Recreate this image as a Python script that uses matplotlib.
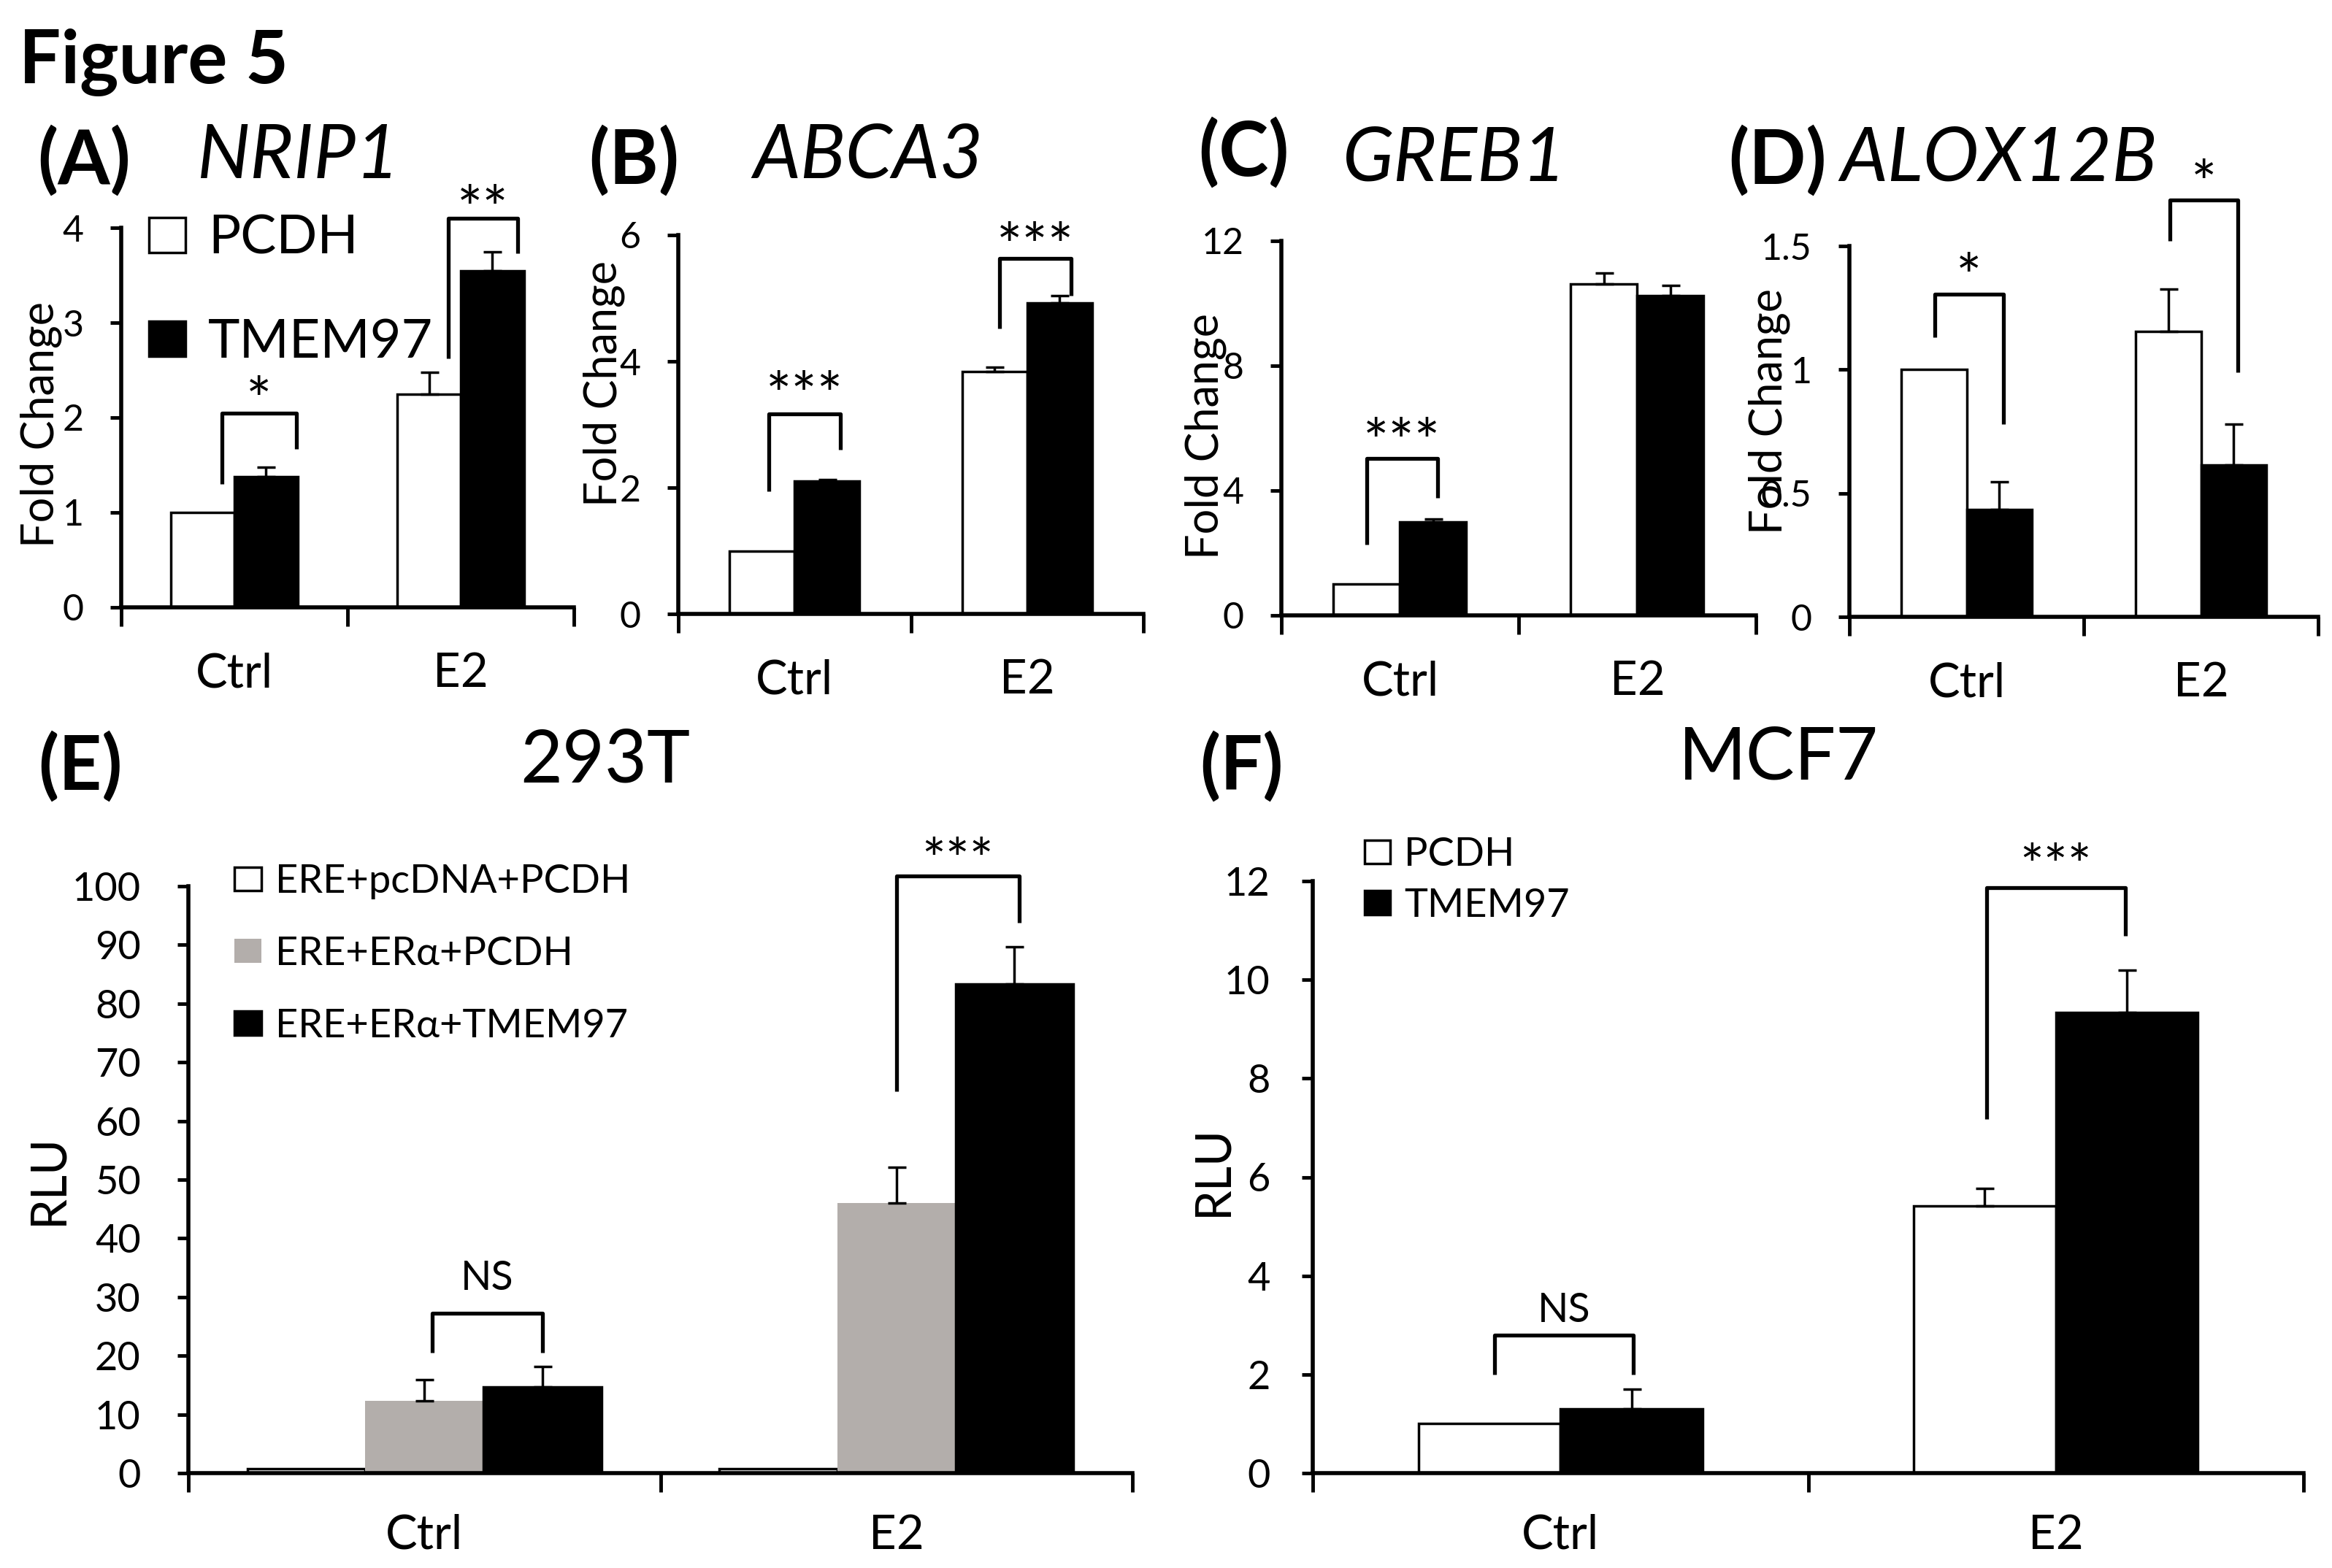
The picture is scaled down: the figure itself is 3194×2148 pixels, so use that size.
import numpy as np
import matplotlib
matplotlib.use('Agg')
import matplotlib.pyplot as plt

plt.rcParams['font.family'] = ['Lato', 'DejaVu Sans']

W, H = 3194, 2148
groups = ['Ctrl', 'E2']

# (A) NRIP1
a_pcdh = [1.0, 2.25]
a_pcdh_err = [0.0, 0.23]
a_tmem = [1.38, 3.55]
a_tmem_err = [0.10, 0.20]
# (B) ABCA3
b_pcdh = [1.0, 3.84]
b_pcdh_err = [0.0, 0.07]
b_tmem = [2.10, 4.93]
b_tmem_err = [0.03, 0.11]
# (C) GREB1
c_pcdh = [1.0, 10.62]
c_pcdh_err = [0.0, 0.35]
c_tmem = [3.0, 10.25]
c_tmem_err = [0.08, 0.33]
# (D) ALOX12B
d_pcdh = [1.0, 1.155]
d_pcdh_err = [0.0, 0.17]
d_tmem = [0.435, 0.615]
d_tmem_err = [0.11, 0.165]
# (E) 293T
e_pcdna = [0.8, 0.8]
e_pcdna_err = [0.0, 0.0]
e_era = [12.3, 46.0]
e_era_err = [3.6, 6.1]
e_tmem = [14.7, 83.3]
e_tmem_err = [3.4, 6.4]
# (F) MCF7
f_pcdh = [1.0, 5.42]
f_pcdh_err = [0.0, 0.35]
f_tmem = [1.30, 9.34]
f_tmem_err = [0.40, 0.85]

# brackets: x left, x right, y left foot, y top, y right foot, label, label y
a_br = [(-0.055, 0.274, 1.30, 2.05, 1.67, '*', 2.33),
        (0.945, 1.25, 2.62, 4.10, 3.73, '**', 4.34)]
b_br = [(-0.11, 0.197, 1.94, 3.17, 2.60, '***', 3.68),
        (0.881, 1.189, 4.52, 5.63, 5.04, '***', 6.04)]
c_br = [(-0.14, 0.158, 2.27, 5.03, 3.76, '***', 6.0)]
d_br = [(-0.135, 0.157, 1.13, 1.305, 0.78, '*', 1.43),
        (0.868, 1.157, 1.52, 1.685, 0.99, '*', 1.81)]
e_br = [(0.017, 0.25, 20.5, 27.3, 20.5, 'NS', 33.7),
        (1.0, 1.26, 65.1, 101.8, 93.8, '***', 106.6)]
f_br = [(-0.133, 0.147, 2.0, 2.8, 2.0, 'NS', 3.36),
        (0.86, 1.14, 7.18, 11.87, 10.89, '***', 12.57)]

GREY = '#b3aeab'


def rect(l, t, r, b):
    return [l / W, 1 - b / H, (r - l) / W, (b - t) / H]


def ftext(x, y, s, **kw):
    fig.text(x / W, 1 - y / H, s, **kw)


def setup(ax, ymax, yticks, ylabels, tsize, xsize, ypad, xpad):
    x = np.arange(len(groups))
    ax.set_xlim(-0.5, 1.5)
    ax.set_ylim(0, ymax)
    for s in ['top', 'right']:
        ax.spines[s].set_visible(False)
    for s in ['left', 'bottom']:
        ax.spines[s].set_linewidth(4)
    ax.set_yticks(yticks)
    ax.set_yticklabels(ylabels)
    ax.set_xticks([-0.5, 0.5, 1.5])
    ax.set_xticklabels([])
    ax.set_xticks(x, minor=True)
    ax.set_xticklabels(groups, minor=True)
    ax.tick_params(axis='y', direction='out', length=11, width=3.5,
                   labelsize=tsize, pad=ypad)
    ax.tick_params(axis='x', which='major', direction='out', length=19, width=3.5)
    ax.tick_params(axis='x', which='minor', length=0, labelsize=xsize, pad=xpad)


def bars(ax, offsets, width, series, errs, colors):
    x = np.arange(len(groups))
    for off, vals, err, col in zip(offsets, series, errs, colors):
        ec = 'none' if col == GREY else 'black'
        ax.bar(x + off, vals, width, color=col, edgecolor=ec, linewidth=2.5, zorder=2)
        err = np.array(err)
        m = err > 0
        if m.any():
            ax.errorbar((x + off)[m], np.array(vals)[m],
                        yerr=[np.zeros(m.sum()), err[m]], fmt='none',
                        ecolor='black', elinewidth=2.5, capsize=9, capthick=2.5,
                        zorder=3)


def brackets(ax, brs, ssize, nsize):
    for xl, xr, yl, yt, yr, lab, ly in brs:
        ax.plot([xl, xl, xr, xr], [yl, yt, yt, yr], color='black', lw=3.8,
                clip_on=False, solid_capstyle='butt', zorder=4)
        size = ssize if '*' in lab else nsize
        f = 0.57 if '*' in lab else 0.36
        ax.annotate(lab, ((xl + xr) / 2, ly), xytext=(0, -f * size),
                    textcoords='offset points', ha='center', va='baseline',
                    fontsize=size, annotation_clip=False)


fig = plt.figure(figsize=(W / 100, H / 100), dpi=100)

# ---- top row ----
w2 = 0.28
axA = fig.add_axes(rect(166, 312, 786, 832))
bars(axA, [-w2 / 2, w2 / 2], w2, [a_pcdh, a_tmem], [a_pcdh_err, a_tmem_err],
     ['white', 'black'])
setup(axA, 4, [0, 1, 2, 3, 4], ['0', '1', '2', '3', '4'], 36, 47, 26, 44)
brackets(axA, a_br, 60, 40)
hA = [axA.patches[0], axA.patches[2]]
axA.legend(hA, ['PCDH', 'TMEM97'], loc='upper left', bbox_to_anchor=(204 / W, 1 - 294 / H),
           bbox_transform=fig.transFigure, frameon=False, borderpad=0, borderaxespad=0,
           handlelength=0.68, handleheight=0.62, handletextpad=0.42, labelspacing=1.02,
           fontsize=53)

axB = fig.add_axes(rect(929, 322, 1566, 841))
bars(axB, [-w2 / 2, w2 / 2], w2, [b_pcdh, b_tmem], [b_pcdh_err, b_tmem_err],
     ['white', 'black'])
setup(axB, 6, [0, 2, 4, 6], ['0', '2', '4', '6'], 36, 47, 26, 44)
brackets(axB, b_br, 60, 40)

axC = fig.add_axes(rect(1755, 330, 2405, 843))
bars(axC, [-w2 / 2, w2 / 2], w2, [c_pcdh, c_tmem], [c_pcdh_err, c_tmem_err],
     ['white', 'black'])
setup(axC, 12, [0, 4, 8, 12], ['0', '4', '8', '12'], 36, 47, 26, 44)
brackets(axC, c_br, 60, 40)

axD = fig.add_axes(rect(2533, 337, 3175, 845))
bars(axD, [-w2 / 2, w2 / 2], w2, [d_pcdh, d_tmem], [d_pcdh_err, d_tmem_err],
     ['white', 'black'])
setup(axD, 1.5, [0, 0.5, 1, 1.5], ['0', '0.5', '1', '1.5'], 36, 47, 26, 44)
brackets(axD, d_br, 60, 40)

# ---- bottom row ----
w3 = 0.25
axE = fig.add_axes(rect(258, 1214, 1551, 2018))
bars(axE, [-w3, 0, w3], w3, [e_pcdna, e_era, e_tmem],
     [e_pcdna_err, e_era_err, e_tmem_err], ['white', GREY, 'black'])
setup(axE, 100, list(range(0, 101, 10)), [str(v) for v in range(0, 101, 10)],
      39, 47, 36, 40)
brackets(axE, e_br, 56, 40)
hE = [axE.patches[0], axE.patches[2], axE.patches[4]]
axE.legend(hE, ['ERE+pcDNA+PCDH', 'ERE+ER\u03b1+PCDH', 'ERE+ER\u03b1+TMEM97'],
           loc='upper left', bbox_to_anchor=(321 / W, 1 - 1183 / H),
           bbox_transform=fig.transFigure, frameon=False, borderpad=0, borderaxespad=0,
           handlelength=0.68, handleheight=0.55, handletextpad=0.36, labelspacing=0.92,
           fontsize=39)

wf = 0.287
axF = fig.add_axes(rect(1798, 1207, 3155, 2018))
bars(axF, [-wf / 2, wf / 2], wf, [f_pcdh, f_tmem], [f_pcdh_err, f_tmem_err],
     ['white', 'black'])
setup(axF, 12, list(range(0, 13, 2)), [str(v) for v in range(0, 13, 2)],
      39, 47, 31, 40)
brackets(axF, f_br, 56, 40)
hF = [axF.patches[0], axF.patches[2]]
axF.legend(hF, ['PCDH', 'TMEM97'], loc='upper left', bbox_to_anchor=(1869 / W, 1 - 1146 / H),
           bbox_transform=fig.transFigure, frameon=False, borderpad=0, borderaxespad=0,
           handlelength=0.64, handleheight=0.55, handletextpad=0.36, labelspacing=0.38,
           fontsize=39)

# ---- labels and titles ----
for x, y in [(56, 581), (827, 526), (1651, 598), (2423, 563)]:
    ftext(x, y, 'Fold Change', rotation=90, ha='center', va='center', fontsize=44)
for x, y in [(66, 1615), (1661, 1604)]:
    ftext(x, y, 'RLU', rotation=90, ha='center', va='center', fontsize=48)

ftext(26, 114, 'Figure 5', fontsize=73, fontweight='bold', va='baseline')
for x, y, s in [(51, 252, '(A)'), (806, 252, '(B)'), (1641, 241, '(C)'),
                (2367, 252, '(D)'), (52, 1082, '(E)'), (1643, 1082, '(F)')]:
    ftext(x, y, s, fontsize=74, fontweight='bold', va='baseline')
for x, y, s in [(270, 244, 'NRIP1'), (1031, 244, 'ABCA3'), (1839, 248, 'GREB1'),
                (2520, 248, 'ALOX12B')]:
    ftext(x, y, s, fontsize=74, style='italic', va='baseline')
ftext(829, 1072, '293T', fontsize=72, ha='center', va='baseline')
ftext(2436, 1068, 'MCF7', fontsize=72, ha='center', va='baseline')

fig.savefig('out.png', dpi=100)
